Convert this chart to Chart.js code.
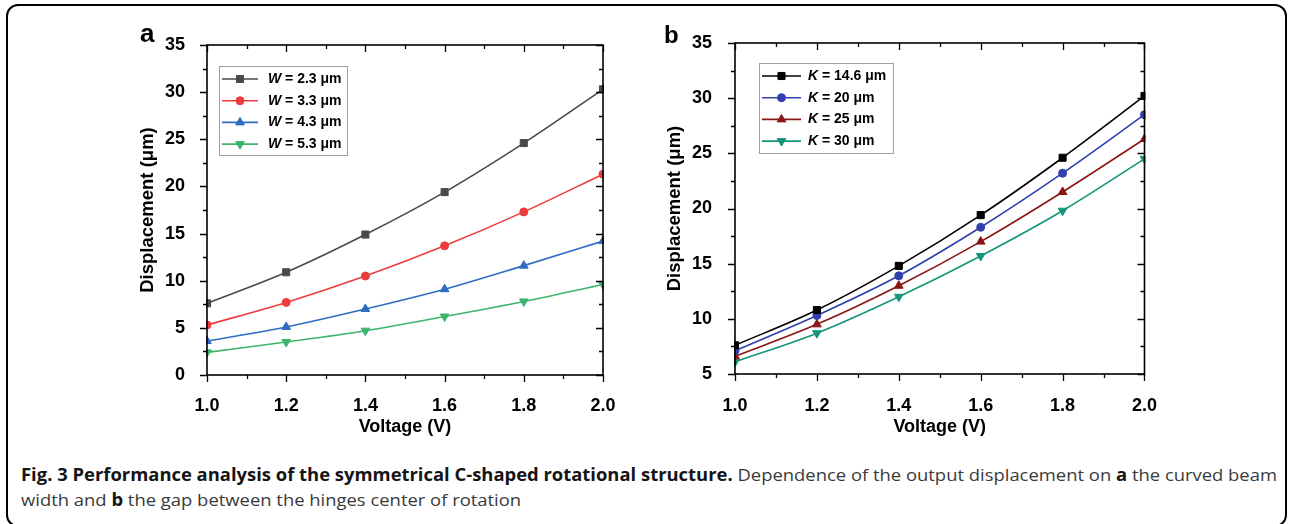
<!DOCTYPE html>
<html><head><meta charset="utf-8">
<script src="https://cdn.jsdelivr.net/npm/chart.js@4.4.0/dist/chart.umd.min.js"></script>
<style>
html,body{margin:0;padding:0;background:#fff;}
body{width:1291px;height:524px;position:relative;overflow:hidden;font-family:"Liberation Sans",Arial,sans-serif;}
#frame{position:absolute;left:6px;top:4px;width:1281px;height:523px;border:2.5px solid #000;border-radius:12px;box-sizing:border-box;}
canvas{position:absolute;top:0;}
#cA{left:120px;}
#cB{left:640px;}
.panel{position:absolute;font-family:"Liberation Sans",Arial,sans-serif;font-weight:bold;color:#000;}
#cap{position:absolute;left:21px;top:462px;font-family:"Open Sans",sans-serif;font-size:17px;line-height:25px;color:#3a3a3a;white-space:nowrap;transform-origin:0 0;}
#cap b{color:#151515;}
#l1,#l2{display:inline-block;}
</style></head>
<body>
<div id="frame"></div>
<canvas id="cA" width="510" height="450"></canvas>
<canvas id="cB" width="530" height="450"></canvas>
<div class="panel" style="left:140px;top:20px;font-size:26px;line-height:26px;">a</div>
<div class="panel" style="left:664px;top:23px;font-size:24px;line-height:24px;">b</div>
<div id="cap"><span id="l1"><b>Fig. 3 Performance analysis of the symmetrical C-shaped rotational structure.</b> Dependence of the output displacement on <b>a</b> the curved beam</span><br><span id="l2">width and <b>b</b> the gap between the hinges center of rotation</span></div>
<script>
// ---- data ----
const voltage = [1.0, 1.2, 1.4, 1.6, 1.8, 2.0];
const xTickValues = [1.0, 1.2, 1.4, 1.6, 1.8, 2.0];
const xTickLabels = ['1.0', '1.2', '1.4', '1.6', '1.8', '2.0'];
const yTicksA = [0, 5, 10, 15, 20, 25, 30, 35];
const yTicksB = [5, 10, 15, 20, 25, 30, 35];

const labelsA = ['W = 2.3 μm', 'W = 3.3 μm', 'W = 4.3 μm', 'W = 5.3 μm'];
const w23 = [7.6, 10.9, 14.9, 19.4, 24.6, 30.3];
const w33 = [5.3, 7.7, 10.5, 13.7, 17.3, 21.3];
const w43 = [3.6, 5.1, 7.0, 9.1, 11.6, 14.2];
const w53 = [2.4, 3.5, 4.7, 6.2, 7.8, 9.6];

const labelsB = ['K = 14.6 μm', 'K = 20 μm', 'K = 25 μm', 'K = 30 μm'];
const k146 = [7.6, 10.8, 14.8, 19.4, 24.6, 30.2];
const k20 = [7.1, 10.3, 13.9, 18.3, 23.2, 28.5];
const k25 = [6.6, 9.5, 13.0, 17.0, 21.5, 26.3];
const k30 = [6.1, 8.7, 12.0, 15.7, 19.8, 24.5];

// ---- helpers ----
const FONT = '"Liberation Sans", Arial, sans-serif';
Chart.defaults.font.family = FONT;

function mk(label, vals, color, style, radius, rot) {
  return {
    label: label,
    data: voltage.map((v, i) => ({x: v, y: vals[i]})),
    borderColor: color, backgroundColor: color,
    pointBackgroundColor: color, pointBorderColor: color,
    pointStyle: style, pointRadius: radius, pointRotation: rot || 0,
    pointBorderWidth: 1, borderWidth: 1.6,
    cubicInterpolationMode: 'monotone',
    clip: 1
  };
}

const frameTicks = {
  id: 'frameTicks',
  afterDatasetsDraw(chart, args, o) {
    const {ctx, chartArea: a, scales: {x, y}} = chart;
    ctx.save();
    ctx.strokeStyle = '#000';
    ctx.lineWidth = 1.3;
    ctx.beginPath();
    let i = 0;
    for (let v = x.min; v <= x.max + 1e-9; v += o.xMinor, i++) {
      const px = Math.round(x.getPixelForValue(v)) + 0.5;
      const L = (i % 2 === 0) ? 7 : 4;
      ctx.moveTo(px, a.bottom); ctx.lineTo(px, a.bottom + L);
      ctx.moveTo(px, a.top); ctx.lineTo(px, a.top + L);
    }
    i = 0;
    for (let v = y.min; v <= y.max + 1e-9; v += o.yMinor, i++) {
      const py = Math.round(y.getPixelForValue(v)) + 0.5;
      const L = (i % 2 === 0) ? 7 : 4;
      ctx.moveTo(a.left, py); ctx.lineTo(a.left - L, py);
      ctx.moveTo(a.right, py); ctx.lineTo(a.right - L, py);
    }
    ctx.stroke();
    ctx.lineWidth = 1.6;
    ctx.strokeRect(a.left, a.top, a.right - a.left, a.bottom - a.top);
    ctx.restore();
  }
};

const customLegend = {
  id: 'customLegend',
  afterDatasetsDraw(chart, args, o) {
    const ctx = chart.ctx;
    ctx.save();
    ctx.fillStyle = '#fff';
    ctx.fillRect(o.x, o.y, o.w, o.h);
    ctx.strokeStyle = '#a0a0a0';
    ctx.lineWidth = 1;
    ctx.strokeRect(o.x + 0.5, o.y + 0.5, o.w, o.h);
    chart.data.datasets.forEach((ds, i) => {
      const cy = o.rowY + i * o.rowH;
      ctx.strokeStyle = ds.borderColor;
      ctx.lineWidth = 1.6;
      ctx.beginPath(); ctx.moveTo(o.lx0, cy); ctx.lineTo(o.lx1, cy); ctx.stroke();
      ctx.fillStyle = ds.pointBackgroundColor;
      ctx.strokeStyle = ds.pointBorderColor;
      ctx.lineWidth = 1;
      Chart.helpers.drawPoint(ctx, {pointStyle: ds.pointStyle, rotation: ds.pointRotation, radius: ds.pointRadius, borderWidth: 1}, (o.lx0 + o.lx1) / 2, cy);
      const first = ds.label.charAt(0), rest = ds.label.slice(1);
      ctx.fillStyle = '#000';
      ctx.textBaseline = 'middle';
      ctx.font = 'italic bold 14px ' + FONT;
      ctx.fillText(first, o.tx, cy);
      const w = ctx.measureText(first).width;
      ctx.font = 'bold 14px ' + FONT;
      ctx.fillText(rest, o.tx + w, cy);
    });
    ctx.restore();
  }
};

function makeChart(id, datasets, yTicks, ymin, ymax, geo, legend) {
  const tickFont = {size: 18, weight: 'bold', family: FONT};
  return new Chart(document.getElementById(id), {
    type: 'line',
    data: {datasets: datasets},
    plugins: [frameTicks, customLegend],
    options: {
      responsive: false, animation: false, devicePixelRatio: 1,
      layout: {padding: {left: 0, top: geo.top, right: geo.right, bottom: 0}},
      plugins: {
        legend: {display: false}, tooltip: {enabled: false},
        frameTicks: {xMinor: 0.1, yMinor: 2.5},
        customLegend: legend
      },
      scales: {
        x: {
          type: 'linear', min: 1, max: 2,
          afterBuildTicks: s => { s.ticks = xTickValues.map(v => ({value: v})); },
          afterFit: s => { s.height = geo.xh; },
          grid: {display: false}, border: {display: false},
          ticks: {padding: geo.xpad, color: '#000', font: tickFont, maxRotation: 0,
                  callback: (v, i) => xTickLabels[i]},
          title: {display: true, text: 'Voltage (V)', color: '#000', font: tickFont,
                  padding: {top: 0, bottom: geo.xtitle}}
        },
        y: {
          type: 'linear', min: ymin, max: ymax,
          afterBuildTicks: s => { s.ticks = yTicks.map(v => ({value: v})); },
          afterFit: s => { s.width = geo.yw; },
          grid: {display: false}, border: {display: false},
          ticks: {padding: geo.ypad, color: '#000', font: tickFont,
                  callback: (v, i) => String(yTicks[i])},
          title: {display: true, text: 'Displacement (μm)', color: '#000', font: {size: 18.5, weight: 'bold', family: FONT},
                  padding: {top: geo.ytitle, bottom: 0}}
        }
      }
    }
  });
}

makeChart('cA', [
  mk(labelsA[0], w23, '#4a4a4a', 'rect', 5),
  mk(labelsA[1], w33, '#ee3b3b', 'circle', 4),
  mk(labelsA[2], w43, '#2f6cc2', 'triangle', 5),
  mk(labelsA[3], w53, '#3db46b', 'triangle', 5, 180)
], yTicksA, 0, 35,
  {top: 45, right: 27, xh: 75, yw: 87, xpad: 12, ypad: 14, xtitle: 12.5, ytitle: 17},
  {x: 99, y: 66, w: 128, h: 89, lx0: 102, lx1: 138, tx: 148, rowY: 79, rowH: 21.7});

makeChart('cB', [
  mk(labelsB[0], k146, '#000000', 'rect', 5),
  mk(labelsB[1], k20, '#3040ad', 'circle', 4),
  mk(labelsB[2], k25, '#8c1616', 'triangle', 5),
  mk(labelsB[3], k30, '#14957a', 'triangle', 5, 180)
], yTicksB, 5, 35,
  {top: 43, right: 23, xh: 76, yw: 95, xpad: 13, ypad: 15, xtitle: 12.2, ytitle: 24.2},
  {x: 119, y: 63, w: 134, h: 90, lx0: 122, lx1: 161, tx: 168, rowY: 76, rowH: 21.7});

// fit caption width to reference line length
const cap = document.getElementById('cap');
const w1 = document.getElementById('l1').getBoundingClientRect().width;
cap.style.transform = 'scaleX(' + (1256 / w1) + ')';
</script>
</body></html>
